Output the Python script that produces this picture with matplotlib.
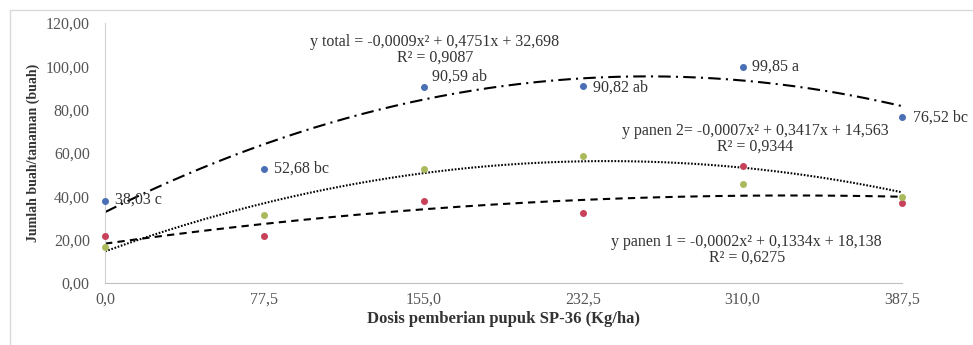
import numpy as np
import matplotlib.pyplot as plt
from matplotlib.patches import Rectangle

# Dose of SP-36 (Kg/ha)
dosis = [0.0, 77.5, 155.0, 232.5, 310.0, 387.5]
# observed points
total = [38.03, 52.68, 90.59, 90.82, 99.85, 76.52]
panen_1 = [21.5, 21.5, 38.0, 32.3, 54.0, 37.0]
panen_2 = [16.5, 31.2, 52.6, 58.5, 45.9, 39.5]
total_labels = ["38,03 c", "52,68 bc", "90,59 ab", "90,82 ab", "99,85 a", "76,52 bc"]

# trendline coefficients as printed on the chart (a, b, c)
coef_total = [-0.0009, 0.4751, 32.698]
coef_panen_2 = [-0.0007, 0.3417, 14.563]
coef_panen_1 = [-0.0002, 0.1334, 18.138]

y_ticks = [0, 20, 40, 60, 80, 100, 120]

plt.rcParams['font.family'] = ['Liberation Serif', 'DejaVu Serif']

fig = plt.figure(figsize=(9.73, 3.45), dpi=100)
ax = fig.add_axes([0.108, 0.180, 0.819, 0.753])

# outer frame of the picture
fig.patches.append(Rectangle((0.010, -0.05), 1.2, 1.021, transform=fig.transFigure,
                             fill=False, edgecolor='#d9d9d9', linewidth=1.0))

xs = np.linspace(0, 387.5, 200)
ax.plot(xs, np.polyval(coef_total, xs), color='black', linewidth=1.5, dashes=(6, 2.5, 1, 2.5))
ax.plot(xs, np.polyval(coef_panen_2, xs), color='black', linewidth=1.5, dashes=(0.8, 0.8))
ax.plot(xs, np.polyval(coef_panen_1, xs), color='black', linewidth=1.5, dashes=(3.5, 2.5))

ax.plot(dosis, total, 'o', color='#4a6fb5', markersize=4, clip_on=False, zorder=3)
ax.plot(dosis, panen_1, 'o', color='#c8405a', markersize=4, clip_on=False, zorder=3)
ax.plot(dosis, panen_2, 'o', color='#a9bb5c', markersize=4, clip_on=False, zorder=3)

# labels of total values (offsets in points)
offsets = [(7, 1), (7, 0), (6, 7), (7, -1), (7, 0), (8, 0)]
for x, y, lab, off in zip(dosis, total, total_labels, offsets):
    ax.annotate(lab, (x, y), xytext=off, textcoords='offset points',
                ha='left', va='center', fontsize=11.5,
                color='#333333', annotation_clip=False)

ax.text(160.4, 107.8, "y total = -0,0009x² + 0,4751x + 32,698\nR² = 0,9087",
        ha='center', va='center', fontsize=11.5, color='#333333', linespacing=1.0)
ax.text(316, 66.5, "y panen 2= -0,0007x² + 0,3417x + 14,563\nR² = 0,9344",
        ha='center', va='center', fontsize=11.5, color='#333333', linespacing=1.0)
ax.text(312, 15.2, "y panen 1 = -0,0002x² + 0,1334x + 18,138\nR² = 0,6275",
        ha='center', va='center', fontsize=11.5, color='#333333', linespacing=1.0)

ax.set_xlim(0, 387.5)
ax.set_ylim(0, 120)
ax.set_xticks(dosis)
ax.set_xticklabels([f"{d:.1f}".replace('.', ',') for d in dosis])
ax.set_yticks(y_ticks)
ax.set_yticklabels([f"{v:.2f}".replace('.', ',') for v in y_ticks])
ax.tick_params(length=0, labelsize=11.5, labelcolor='#555555')
ax.tick_params(axis='x', pad=6)
ax.tick_params(axis='y', pad=11)

for s in ['top', 'right']:
    ax.spines[s].set_visible(False)
ax.spines['left'].set_color('#d0d0d0')
ax.spines['bottom'].set_color('#bfbfbf')

ax.set_xlabel("Dosis pemberian pupuk SP-36 (Kg/ha)", fontsize=12, fontweight='bold',
              color='#333333', labelpad=3)
ax.set_ylabel("Jumlah buah/tanaman (buah)", fontsize=10, fontweight='bold',
              color='#333333', labelpad=4)

fig.savefig("out.png", dpi=100)
